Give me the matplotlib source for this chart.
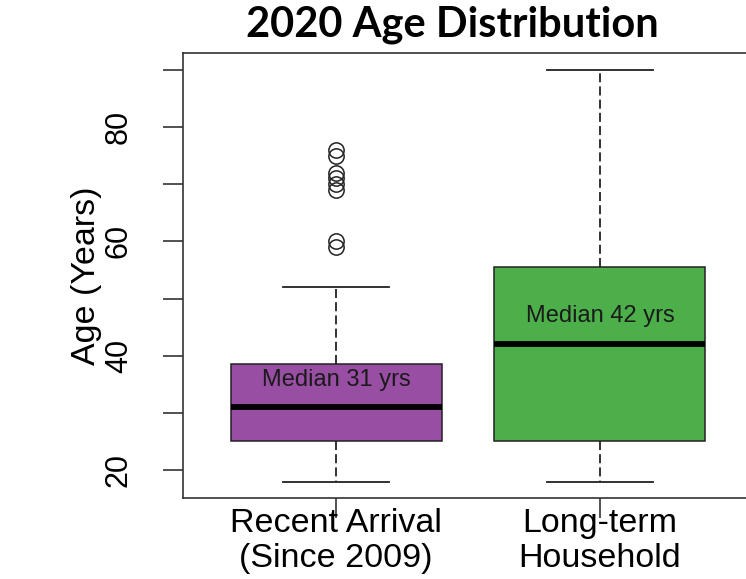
import matplotlib
matplotlib.use("Agg")
import matplotlib.pyplot as plt
from matplotlib.ticker import FixedLocator

# ---- data ----
categories = ["Recent Arrival\n(Since 2009)", "Long-term\nHousehold"]
q1 = [25, 25]
medians = [31, 42]
q3 = [38.6, 55.5]
whisker_low = [18, 18]
whisker_high = [52, 90]
fliers_recent = [59, 60, 69, 70, 71, 72, 75, 76]
fliers_longterm = []
box_colors = ["#984EA3", "#4DAF4A"]
median_labels = ["Median 31 yrs", "Median 42 yrs"]
median_label_y = [35.8, 47.0]
ytick_major = [20, 40, 60, 80]
ytick_minor = [30, 50, 70, 90]

plt.rcParams['lines.scale_dashes'] = False
plt.rcParams['font.family'] = ['Liberation Sans', 'DejaVu Sans']

fig = plt.figure(figsize=(7.46, 5.79), dpi=100)
W, H = 746, 579
ax = fig.add_axes([183 / W, 1 - 498 / H, (753 - 183) / W, (498 - 53.3) / H])

fliers = [fliers_recent, fliers_longterm]
stats = []
for i in range(len(categories)):
    stats.append(dict(med=medians[i], q1=q1[i], q3=q3[i],
                      whislo=whisker_low[i], whishi=whisker_high[i],
                      fliers=fliers[i], label=categories[i]))

positions = list(range(1, len(categories) + 1))
bp = ax.bxp(stats, positions=positions, widths=0.8, capwidths=0.4,
            patch_artist=True, showfliers=True,
            boxprops=dict(edgecolor="#222222", linewidth=1.1),
            whiskerprops=dict(color="#222222", linewidth=1.3,
                              linestyle=(0, (6.5, 3.0))),
            capprops=dict(color="#222222", linewidth=1.3),
            medianprops=dict(color="black", linewidth=4.2, solid_capstyle='butt'),
            flierprops=dict(marker='o', markerfacecolor='none',
                            markeredgecolor='#222222', markersize=11,
                            markeredgewidth=1.1))
for patch, c in zip(bp['boxes'], box_colors):
    patch.set_facecolor(c)

for pos, txt, y in zip(positions, median_labels, median_label_y):
    ax.text(pos, y, txt, ha='center', va='center', fontsize=17,
            color='#1a1a1a', family=['Liberation Sans', 'DejaVu Sans'])

ax.set_xlim(0.42, 2.58)
ax.set_ylim(15.12, 92.88)

ax.set_xticks(positions)
ax.set_xticklabels(categories, fontsize=24.5, linespacing=1.17)
ax.yaxis.set_major_locator(FixedLocator(ytick_major))
ax.yaxis.set_minor_locator(FixedLocator(ytick_minor))
ax.set_yticklabels([str(v) for v in ytick_major], fontsize=22,
                   rotation=90, va='center')

ax.tick_params(axis='x', which='major', length=14.4, width=1.1,
               color='#222222', pad=-7.5)
ax.tick_params(axis='y', which='both', length=14.4, width=1.1,
               color='#222222', pad=21)

for s in ax.spines.values():
    s.set_color('#333333')
    s.set_linewidth(1.2)

ax.set_ylabel("Age (Years)", fontsize=24.5, va='center')
ax.yaxis.set_label_coords((86 - 183) / (753 - 183), 0.5)

fig.text(452 / W, 1 - 37 / H, "2020 Age Distribution", ha='center',
         va='baseline', fontsize=30, fontweight='bold',
         family=['Lato', 'DejaVu Sans'])

fig.savefig("out.png", dpi=100)
